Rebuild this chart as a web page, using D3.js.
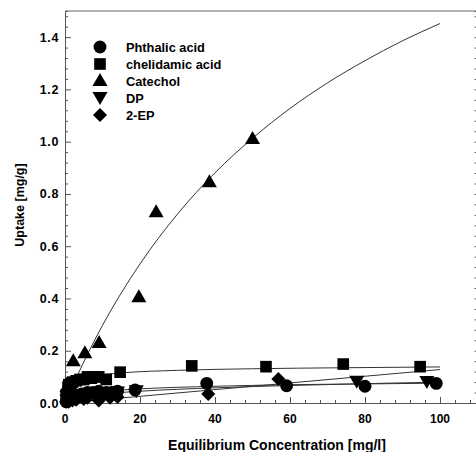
<!DOCTYPE html>
<html>
<head>
<meta charset="utf-8">
<script src="https://cdn.jsdelivr.net/npm/d3@7"></script>
<style>
  body { margin: 0; background: #fff; }
  svg { display: block; }
  text { font-family: "Liberation Sans", Arial, sans-serif; font-weight: bold; fill: #000; }
</style>
</head>
<body>
<svg id="chart" width="476" height="452"></svg>
<script>
// Series names as shown in the legend
const seriesNames = ["Phthalic acid", "chelidamic acid", "Catechol", "DP", "2-EP"];

// Measured points (equilibrium concentration mg/l, uptake mg/g)
const phthalicX = [0.3, 1.2, 2.5, 3.5, 4.5, 6.0, 7.5, 9.0, 11, 12.5, 14, 18.7, 37.8, 59.1, 80.0, 99.0];
const phthalicY = [0.005, 0.02, 0.03, 0.03, 0.035, 0.04, 0.04, 0.045, 0.04, 0.04, 0.045, 0.05, 0.075, 0.066, 0.064, 0.075];

const chelidamicX = [0.3, 0.8, 1.0, 1.6, 2.0, 3.0, 4.0, 5.0, 6.0, 7.0, 8.0, 9.0, 11.0, 14.7, 33.8, 53.6, 74.2, 94.7];
const chelidamicY = [0.03, 0.06, 0.07, 0.075, 0.08, 0.085, 0.09, 0.09, 0.1, 0.095, 0.1, 0.1, 0.09, 0.118, 0.142, 0.139, 0.149, 0.139];

const catecholX = [0.5, 2.2, 5.3, 9.1, 19.7, 24.3, 38.5, 50.0];
const catecholY = [0.06, 0.16, 0.19, 0.23, 0.405, 0.73, 0.845, 1.01];

const dpX = [0.5, 1.0, 2.0, 3.0, 4.0, 5.0, 7.0, 8.0, 10.0, 12.0, 14.0, 19.0, 77.8, 96.5];
const dpY = [0.01, 0.015, 0.02, 0.025, 0.03, 0.03, 0.035, 0.035, 0.03, 0.03, 0.04, 0.045, 0.081, 0.08];

const epX = [0.3, 1.0, 2.0, 3.0, 5.0, 6.0, 9.0, 12.0, 14.0, 38.2, 56.9];
const epY = [0.005, 0.005, 0.01, 0.012, 0.015, 0.02, 0.01, 0.02, 0.023, 0.034, 0.092];

// Fitted isotherm curves, sampled along the concentration axis
const catecholFitX = [0, 2, 5, 10, 20, 30, 40, 50, 60, 70, 80, 90, 100];
const catecholFitY = [0, 0.065, 0.157, 0.297, 0.532, 0.723, 0.881, 1.013, 1.127, 1.225, 1.31, 1.386, 1.452];

const chelidamicFitX = [0, 1, 2, 4, 8, 15, 30, 50, 75, 100];
const chelidamicFitY = [0, 0.04, 0.065, 0.088, 0.104, 0.115, 0.125, 0.131, 0.135, 0.138];

const phthalicFitX = [0, 2, 5, 10, 20, 40, 60, 80, 100];
const phthalicFitY = [0, 0.02, 0.034, 0.044, 0.054, 0.064, 0.07, 0.073, 0.076];

const dpFitX = [0, 5, 10, 20, 40, 60, 80, 100];
const dpFitY = [0, 0.024, 0.034, 0.045, 0.058, 0.067, 0.074, 0.08];

const epFitX = [0, 100];
const epFitY = [0, 0.128];

// Axis ticks
const xTicks = [0, 20, 40, 60, 80, 100];
const yTicks = [0.0, 0.2, 0.4, 0.6, 0.8, 1.0, 1.2, 1.4];

const svg = d3.select("#chart");
const x = d3.scaleLinear().domain([0, 110]).range([65, 477.5]);
const y = d3.scaleLinear().domain([0, 1.5]).range([403, 11]);

const axisColor = "#555";

// Frame: top edge
svg.append("line").attr("x1", x(0)).attr("x2", x(110)).attr("y1", y(1.5)).attr("y2", y(1.5))
  .attr("stroke", "#666").attr("stroke-width", 1);

// Left axis with inward ticks
const gy = svg.append("g").attr("transform", `translate(${x(0)},0)`);
gy.call(d3.axisRight(y).tickValues(d3.range(0, 1.5001, 0.04)).tickSize(3).tickFormat(""));
gy.call(g => g.selectAll(".tick line").filter(d => yTicks.some(t => Math.abs(t - d) < 1e-6)).attr("x2", 6));
gy.select(".domain").attr("stroke", axisColor);
gy.selectAll(".tick line").attr("stroke", axisColor);

yTicks.forEach(t => {
  svg.append("text").attr("x", 59).attr("y", y(t) + 4.5).attr("text-anchor", "end")
    .attr("font-size", 12.5).attr("letter-spacing", 0.6).text(t.toFixed(1));
});

// Right edge ticks
const gr = svg.append("g").attr("transform", `translate(${x(110)},0)`);
gr.call(d3.axisLeft(y).tickValues(d3.range(0, 1.5001, 0.04)).tickSize(3).tickFormat(""));
gr.select(".domain").attr("stroke", axisColor);
gr.selectAll(".tick line").attr("stroke", axisColor);

// Bottom axis with inward ticks
const gx = svg.append("g").attr("transform", `translate(0,${y(0)})`);
gx.call(d3.axisTop(x).tickValues(d3.range(0, 110.001, 4)).tickSize(3).tickFormat(""));
gx.call(g => g.selectAll(".tick line").filter(d => xTicks.includes(Math.round(d)) && Math.abs(d - Math.round(d)) < 1e-6).attr("y2", -6));
gx.select(".domain").attr("stroke", axisColor);
gx.selectAll(".tick line").attr("stroke", axisColor);

xTicks.forEach(t => {
  svg.append("text").attr("x", x(t)).attr("y", 423).attr("text-anchor", "middle")
    .attr("font-size", 12).text(t);
});

// Axis titles
svg.append("text").attr("x", 277).attr("y", 450).attr("text-anchor", "middle")
  .attr("font-size", 14).text("Equilibrium Concentration [mg/l]");
svg.append("text").attr("transform", `translate(24,205) rotate(-90)`).attr("text-anchor", "middle")
  .attr("font-size", 12.5).text("Uptake [mg/g]");

// Fit curves
const line = d3.line().x(d => x(d[0])).y(d => y(d[1])).curve(d3.curveMonotoneX);
const fits = [
  [catecholFitX, catecholFitY],
  [chelidamicFitX, chelidamicFitY],
  [phthalicFitX, phthalicFitY],
  [dpFitX, dpFitY],
  [epFitX, epFitY]
];
fits.forEach(([fx, fy]) => {
  svg.append("path").datum(fx.map((v, i) => [v, fy[i]]))
    .attr("d", line).attr("fill", "none").attr("stroke", "#333").attr("stroke-width", 1);
});

// Marker shapes
const shapes = {
  circle: d3.symbol().type(d3.symbolCircle).size(130)(),
  square: d3.symbol().type(d3.symbolSquare).size(135)(),
  triangle: "M0,-8L7.5,5L-7.5,5Z",
  down: "M0,7L7.5,-6L-7.5,-6Z",
  diamond: "M0,-7L7,0L0,7L-7,0Z"
};
const series = [
  { xs: phthalicX, ys: phthalicY, shape: shapes.circle },
  { xs: chelidamicX, ys: chelidamicY, shape: shapes.square },
  { xs: catecholX, ys: catecholY, shape: shapes.triangle },
  { xs: dpX, ys: dpY, shape: shapes.down },
  { xs: epX, ys: epY, shape: shapes.diamond }
];

series.forEach(s => {
  svg.append("g").selectAll("path").data(s.xs.map((v, i) => [v, s.ys[i]])).join("path")
    .attr("d", s.shape)
    .attr("transform", d => `translate(${x(d[0])},${y(d[1])})`)
    .attr("fill", "#000");
});

// Legend
const legend = svg.append("g");
series.forEach((s, i) => {
  const ly = 47 + i * 17;
  legend.append("path").attr("d", s.shape).attr("transform", `translate(100,${ly})`).attr("fill", "#000");
  legend.append("text").attr("x", 126).attr("y", ly + 5).attr("font-size", 12.8).text(seriesNames[i]);
});
</script>
</body>
</html>
